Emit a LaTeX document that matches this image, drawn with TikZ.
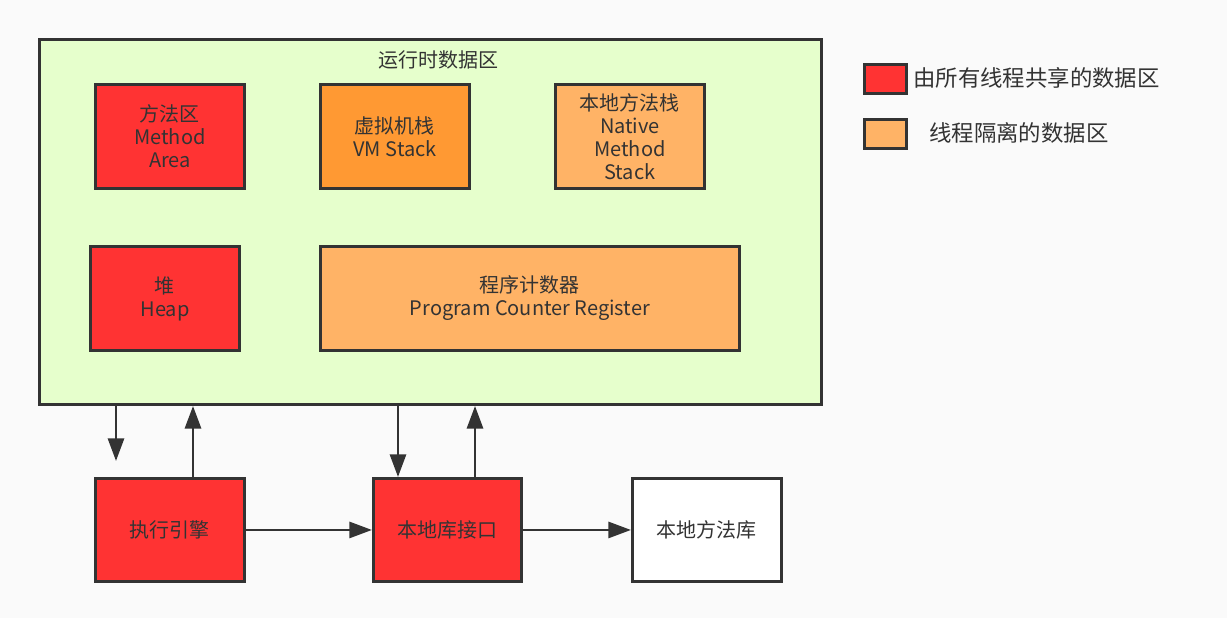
\documentclass[tikz,border=0pt]{standalone}
\usepackage{fontspec}
\setmainfont{Noto Sans CJK SC}
\usetikzlibrary{arrows.meta}
\definecolor{bg}{HTML}{FAFAFA}
\definecolor{outerfill}{HTML}{E6FFCC}
\definecolor{ink}{HTML}{333333}
\definecolor{shared}{HTML}{FF3333}
\definecolor{vmorange}{HTML}{FF9933}
\definecolor{isolated}{HTML}{FFB366}
\tikzset{
  box/.style={draw=ink, line width=2.2pt, inner sep=0pt, anchor=north west, align=center,
    font=\fontsize{15pt}{17.3pt}\selectfont, text=ink},
  conn/.style={draw=ink, line width=2.2pt, -{Triangle[length=17pt,width=12pt]}},
  lbl/.style={font=\fontsize{15pt}{17.3pt}\selectfont, text=ink, inner sep=0pt},
  leg/.style={font=\fontsize{16.8pt}{19pt}\selectfont, text=ink, inner sep=0pt}
}
\begin{document}
\begin{tikzpicture}[x=0.75pt,y=-0.75pt]
\fill[bg] (0,0) rectangle (1227,618);
\useasboundingbox (0,0) rectangle (1227,618);
% outer
\node[box, fill=outerfill, minimum width=782*0.75pt, minimum height=365*0.75pt] (outer) at (38,38) {};
\node[lbl] (title) at (438,60) {运行时数据区};
% inner boxes
\node[box, fill=shared, minimum width=149*0.75pt, minimum height=104*0.75pt] (ma) at (94,83) {方法区\\Method\\Area};
\node[box, fill=vmorange, minimum width=149*0.75pt, minimum height=104*0.75pt] (vm) at (319,83) {虚拟机栈\\VM Stack};
\node[box, fill=isolated, minimum width=149*0.75pt, minimum height=104*0.75pt] (nm) at (554,83) {本地方法栈\\Native\\Method\\Stack};
\node[box, fill=shared, minimum width=149*0.75pt, minimum height=104*0.75pt] (heap) at (89,245) {堆\\Heap};
\node[box, fill=isolated, minimum width=419*0.75pt, minimum height=104*0.75pt] (pc) at (319,245) {程序计数器\\Program Counter Register};
% bottom boxes
\node[box, fill=shared, minimum width=149*0.75pt, minimum height=103*0.75pt] (ee) at (94,477) {执行引擎};
\node[box, fill=shared, minimum width=148*0.75pt, minimum height=103*0.75pt] (nli) at (372,477) {本地库接口};
\node[box, fill=white, minimum width=149*0.75pt, minimum height=103*0.75pt] (nml) at (631,477) {本地方法库};
% legend
\node[box, fill=shared, minimum width=42*0.75pt, minimum height=29*0.75pt] (lg1) at (863,63) {};
\node[box, fill=isolated, minimum width=42*0.75pt, minimum height=29*0.75pt] (lg2) at (863,118) {};
\node[leg, anchor=west] (lt1) at (913,78) {由所有线程共享的数据区};
\node[leg, anchor=west] (lt2) at (929,133) {线程隔离的数据区};
% connectors
\coordinate (d1end) at (116,461);
\draw[conn] (outer.south west -| d1end) -- (d1end);
\draw[conn] (ee.north -| 193,0) -- (outer.south -| 193,0);
\draw[conn] (outer.south -| 398,0) -- (nli.north -| 398,0);
\draw[conn] (nli.north -| 475,0) -- (outer.south -| 475,0);
\draw[conn] (ee.east) -- (nli.west);
\draw[conn] (nli.east) -- (nml.west);
\end{tikzpicture}
\end{document}
